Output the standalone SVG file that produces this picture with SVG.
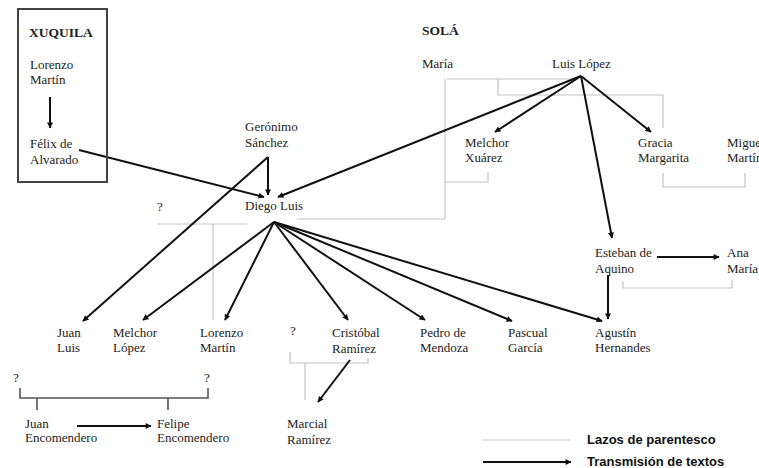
<svg xmlns="http://www.w3.org/2000/svg" width="759" height="468" viewBox="0 0 759 468">
<defs>
<marker id="ah" viewBox="0 0 10 10" refX="9" refY="5" markerWidth="9" markerHeight="6" markerUnits="userSpaceOnUse" orient="auto"><path d="M0,0 L10,5 L0,10 z" fill="#111"/></marker>
<style>
text{font-family:"Liberation Serif","Times New Roman",serif;font-size:13px;fill:#222}
.h{font-weight:bold;font-size:13.5px}
.lg{font-family:"Liberation Sans",Arial,sans-serif;font-weight:bold;font-size:13px;fill:#111}
.kin{fill:none;stroke:#c4c4c4;stroke-width:1.2}
.kd{fill:none;stroke:#555;stroke-width:1.6}
.tr{fill:none;stroke:#111;stroke-width:2;marker-end:url(#ah)}
</style>
</defs>
<rect width="759" height="468" fill="#fff"/>

<g id="kinship">
<path class="kin" d="M447,79 H578 M498,79 V95 H663 V128"/>
<path class="kin" d="M445,79 V219 H297"/>
<path class="kin" d="M445,182 H488 V172"/>
<path class="kin" d="M157,224 H247 M213,224 V320"/>
<path class="kin" d="M663,173 V187 H745 V173"/>
<path class="kin" d="M623,281 V288 H732 V280"/>
<path class="kin" d="M290,352 V363 H368 V358 M305,363 V400"/>
<path class="kd" d="M20,388 V398 H208 V388 M37,398 V410 M168,398 V410"/>
</g>

<g id="connectors">
<line class="tr" x1="50" y1="97" x2="50" y2="128"/>
<line class="tr" x1="79" y1="150" x2="264" y2="197"/>
<line class="tr" x1="268" y1="157" x2="268" y2="195"/>
<line class="tr" x1="268" y1="157" x2="83" y2="321"/>
<line class="tr" x1="581" y1="76" x2="278" y2="197"/>
<line class="tr" x1="581" y1="76" x2="495" y2="132"/>
<line class="tr" x1="581" y1="76" x2="651" y2="132"/>
<line class="tr" x1="581" y1="76" x2="612" y2="238"/>
<line class="tr" x1="274" y1="222" x2="143" y2="320"/>
<line class="tr" x1="274" y1="222" x2="225" y2="320"/>
<line class="tr" x1="274" y1="222" x2="348" y2="320"/>
<line class="tr" x1="274" y1="222" x2="425" y2="320"/>
<line class="tr" x1="274" y1="222" x2="512" y2="321"/>
<line class="tr" x1="274" y1="222" x2="602" y2="321"/>
<line class="tr" x1="657" y1="257" x2="719" y2="257"/>
<line class="tr" x1="608" y1="275" x2="608" y2="319"/>
<line class="tr" x1="350" y1="360" x2="318" y2="402"/>
<line class="tr" x1="77" y1="426" x2="151" y2="426"/>
</g>

<g id="xuquila">
<rect x="18" y="9" width="89" height="173" fill="none" stroke="#444" stroke-width="2"/>
<text class="h" x="29" y="37">XUQUILA</text>
</g>
<g id="lorenzo-martin-x"><text x="30" y="69">Lorenzo</text><text x="30" y="84">Martín</text></g>
<g id="felix-de-alvarado"><text x="30" y="148">Félix de</text><text x="30" y="164">Alvarado</text></g>

<g id="sola"><text class="h" x="422" y="35">SOLÁ</text></g>
<g id="maria"><text x="422" y="68">María</text></g>
<g id="luis-lopez"><text x="552" y="68">Luis López</text></g>
<g id="melchor-xuarez"><text x="465" y="147">Melchor</text><text x="465" y="162">Xuárez</text></g>
<g id="gracia-margarita"><text x="638" y="147">Gracia</text><text x="638" y="162">Margarita</text></g>
<g id="miguel-martin"><text x="727" y="147">Miguel</text><text x="727" y="162">Martín</text></g>

<g id="geronimo-sanchez"><text x="245" y="131">Gerónimo</text><text x="245" y="147">Sánchez</text></g>
<g id="diego-luis"><text x="245" y="210">Diego Luis</text></g>
<g id="unknown-1"><text x="157" y="211">?</text></g>

<g id="esteban-de-aquino"><text x="595" y="257">Esteban de</text><text x="595" y="273">Aquino</text></g>
<g id="ana-maria"><text x="727" y="257">Ana</text><text x="727" y="273">María</text></g>

<g id="juan-luis"><text x="57" y="337">Juan</text><text x="57" y="352">Luis</text></g>
<g id="melchor-lopez"><text x="113" y="337">Melchor</text><text x="113" y="352">López</text></g>
<g id="lorenzo-martin"><text x="200" y="337">Lorenzo</text><text x="200" y="352">Martín</text></g>
<g id="unknown-2"><text x="290" y="335">?</text></g>
<g id="cristobal-ramirez"><text x="332" y="337">Cristóbal</text><text x="332" y="353">Ramírez</text></g>
<g id="pedro-de-mendoza"><text x="420" y="337">Pedro de</text><text x="420" y="352">Mendoza</text></g>
<g id="pascual-garcia"><text x="508" y="337">Pascual</text><text x="508" y="352">García</text></g>
<g id="agustin-hernandes"><text x="595" y="337">Agustín</text><text x="595" y="352">Hernandes</text></g>

<g id="unknown-3"><text x="13" y="382">?</text></g>
<g id="unknown-4"><text x="204" y="382">?</text></g>
<g id="juan-encomendero"><text x="25" y="428">Juan</text><text x="25" y="442">Encomendero</text></g>
<g id="felipe-encomendero"><text x="157" y="428">Felipe</text><text x="157" y="442">Encomendero</text></g>
<g id="marcial-ramirez"><text x="287" y="428">Marcial</text><text x="287" y="444">Ramírez</text></g>

<g id="legend">
<line class="kin" x1="483" y1="440" x2="570" y2="440"/>
<line class="tr" x1="483" y1="462" x2="571" y2="462"/>
<text class="lg" x="587" y="444">Lazos de parentesco</text>
<text class="lg" x="587" y="466">Transmisión de textos</text>
</g>
</svg>
